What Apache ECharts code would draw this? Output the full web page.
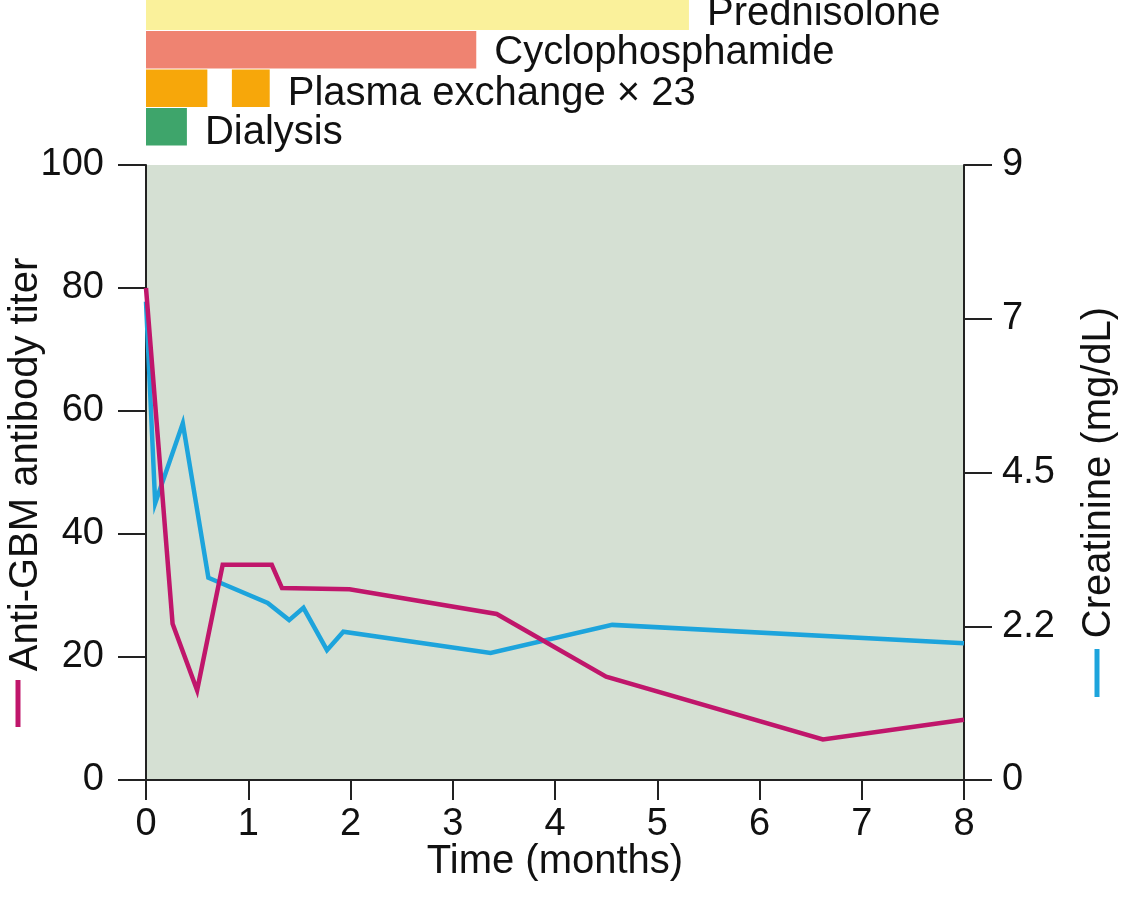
<!DOCTYPE html>
<html>
<head>
<meta charset="utf-8">
<script src="https://cdn.jsdelivr.net/npm/echarts@6/dist/echarts.min.js"></script>
<style>
  html, body { margin: 0; padding: 0; background: #fff; }
  #main { width: 1131px; height: 900px; }
</style>
</head>
<body>
<div id="main"></div>
<script>
// therapy rows shown above the plot
const therapyNames = ['Prednisolone', 'Cyclophosphamide', 'Plasma exchange \u00d7 23', 'Dialysis'];
const therapyColors = ['#faf19b', '#ef8371', '#f7a70a', '#3ea56b'];
// [row, start month, end month]
const therapyPeriods = [
    [0, 0, 5.31],
    [1, 0, 3.23],
    [2, 0, 0.6],
    [2, 0.84, 1.21],
    [3, 0, 0.4]
];

// anti-GBM antibody titer
const titerMonths = [0, 0.26, 0.5, 0.75, 1.23, 1.33, 1.99, 3.43, 4.5, 6.62, 8];
const titerValues = [80, 25.4, 14.6, 35, 35, 31.2, 31, 27, 16.8, 6.6, 9.8];

// creatinine (mg/dL)
const creatMonths = [0, 0.09, 0.36, 0.61, 1.19, 1.4, 1.54, 1.77, 1.93, 3.37, 4.56, 8];
const creatValues = [7.0, 4.05, 5.22, 2.96, 2.59, 2.34, 2.52, 1.9, 2.17, 1.86, 2.27, 2.0];

// axis tick labels
const timeTicks = [0, 1, 2, 3, 4, 5, 6, 7, 8];
const creatTickLabels = ['0', '2.2', '4.5', '7', '9'];

const font = 'Liberation Sans, Arial, sans-serif';
const ink = '#111';
const tickSize = 38;
const textSize = 40;

const chart = echarts.init(document.getElementById('main'), null, { renderer: 'canvas' });

function zip(xs, ys) {
    return xs.map((x, i) => [x, ys[i]]);
}

// last segment of each row gets the text label
const lastInRow = {};
therapyPeriods.forEach((p, i) => { lastInRow[p[0]] = i; });

function renderTherapy(params, api) {
    const row = api.value(0);
    const start = api.coord([api.value(1), row]);
    const end = api.coord([api.value(2), row]);
    const h = api.size([0, 1])[1] - 1;
    const children = [{
        type: 'rect',
        shape: { x: start[0], y: start[1] - h / 2, width: end[0] - start[0], height: h },
        style: { fill: therapyColors[row] }
    }];
    if (lastInRow[row] === params.dataIndex) {
        children.push({
            type: 'text',
            style: {
                x: end[0] + 18, y: start[1] + (row >= 2 ? 6 : 3),
                text: therapyNames[row],
                fill: ink, font: textSize + 'px ' + font,
                verticalAlign: 'middle', align: 'left'
            }
        });
    }
    return { type: 'group', children: children };
}

const option = {
    backgroundColor: '#fff',
    animation: false,
    grid: [
        { left: 146, right: 167, top: 165, bottom: 120, outerBoundsMode: 'none',
          show: true, backgroundColor: '#d5e0d3', borderWidth: 0 },
        { left: 146, right: 167, top: -8, height: 154, outerBoundsMode: 'none' }
    ],
    xAxis: [
        {
            type: 'value', min: 0, max: 8, interval: 1,
            name: 'Time (months)', nameLocation: 'middle', nameGap: 62, nameMoveOverlap: false,
            nameTextStyle: { fontSize: textSize, color: ink, fontFamily: font },
            axisLine: { show: true, lineStyle: { color: '#222', width: 2 } },
            axisTick: { show: true, length: 20, lineStyle: { color: '#222', width: 2 } },
            axisLabel: { fontSize: tickSize, color: ink, fontFamily: font, margin: 26,
                formatter: v => timeTicks.indexOf(v) >= 0 ? String(v) : '' },
            splitLine: { show: false }
        },
        { type: 'value', gridIndex: 1, min: 0, max: 8, show: false }
    ],
    yAxis: [
        {
            type: 'value', min: 0, max: 100, interval: 20,
            name: 'Anti-GBM antibody titer', nameLocation: 'middle', nameGap: 100, nameRotate: 90,
            nameMoveOverlap: false,
            nameTextStyle: { fontSize: textSize, color: ink, fontFamily: font, padding: [0, 0, 0, 16] },
            axisLine: { show: true, lineStyle: { color: '#222', width: 2 } },
            axisTick: { show: true, inside: false, length: 28, lineStyle: { color: '#222', width: 2 } },
            axisLabel: { fontSize: tickSize, color: ink, fontFamily: font, margin: 42 },
            splitLine: { show: false }
        },
        {
            type: 'value', position: 'right', min: 0, max: 9, interval: 2.25,
            name: 'Creatinine (mg/dL)', nameLocation: 'middle', nameGap: 115, nameRotate: 90,
            nameMoveOverlap: false,
            nameTextStyle: { fontSize: textSize, color: ink, fontFamily: font },
            axisLine: { show: true, lineStyle: { color: '#222', width: 2 } },
            axisTick: { show: true, length: 28, lineStyle: { color: '#222', width: 2 } },
            axisLabel: { fontSize: tickSize, color: ink, fontFamily: font, margin: 38,
                formatter: (v) => creatTickLabels[Math.round(v / 2.25)] },
            splitLine: { show: false }
        },
        {
            type: 'category', gridIndex: 1, inverse: true,
            data: therapyNames, show: false
        }
    ],
    series: [
        {
            type: 'custom', xAxisIndex: 1, yAxisIndex: 2,
            renderItem: renderTherapy,
            encode: { x: [1, 2], y: 0 },
            data: therapyPeriods,
            clip: false
        },
        {
            name: 'Creatinine (mg/dL)', type: 'line', yAxisIndex: 1,
            data: zip(creatMonths, creatValues),
            symbol: 'none',
            lineStyle: { color: '#1da4dc', width: 4.5, join: 'miter' }
        },
        {
            name: 'Anti-GBM antibody titer', type: 'line', yAxisIndex: 0,
            data: zip(titerMonths, titerValues),
            symbol: 'none',
            lineStyle: { color: '#c0166b', width: 4.5, join: 'miter' }
        }
    ],
    graphic: [
        { type: 'line', shape: { x1: 18, y1: 680, x2: 18, y2: 727 }, style: { stroke: '#c0166b', lineWidth: 5 } },
        { type: 'line', shape: { x1: 1097, y1: 649, x2: 1097, y2: 697 }, style: { stroke: '#1da4dc', lineWidth: 5 } }
    ]
};

chart.setOption(option);
</script>
</body>
</html>
